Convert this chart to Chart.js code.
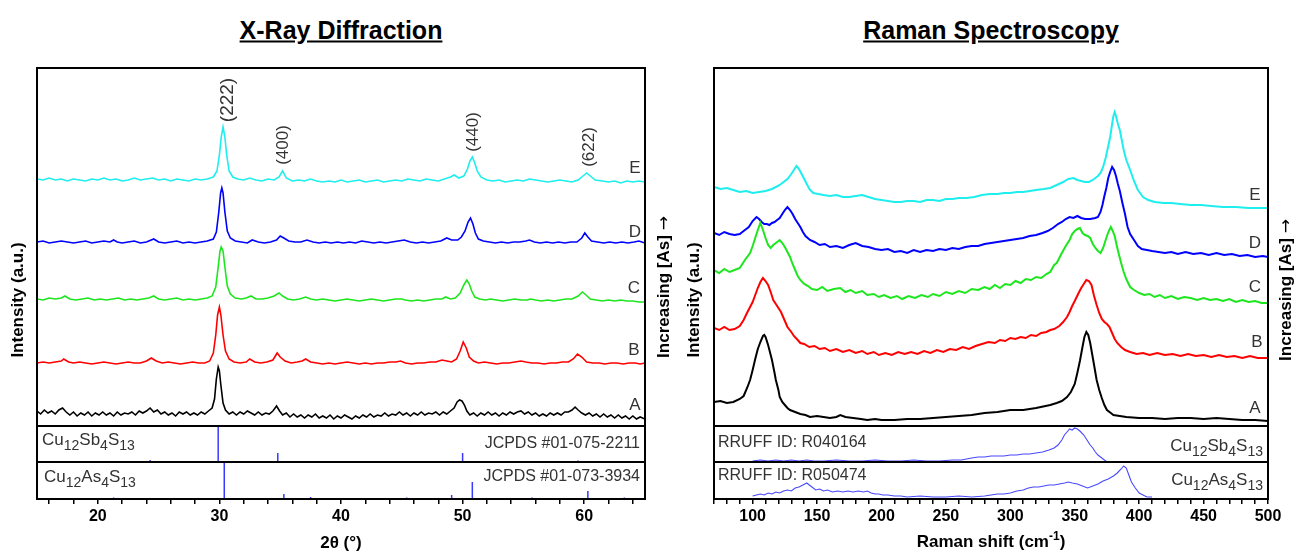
<!DOCTYPE html>
<html>
<head>
<meta charset="utf-8">
<script src="https://cdn.jsdelivr.net/npm/chart.js@4.4.0/dist/chart.umd.min.js"></script>
<style>
  body { margin: 0; width: 1296px; height: 553px; position: relative; overflow: hidden; background: #fff;
         font-family: 'Liberation Sans', Arial, sans-serif; }
  .box { position: absolute; border: 2px solid #000; box-sizing: border-box; pointer-events: none; z-index: 5; }
  .sep { position: absolute; height: 2px; background: #000; z-index: 5; }
  .t { position: absolute; white-space: nowrap; transform: translate(-50%, -50%); z-index: 6; }
  .rot { transform: translate(-50%, -50%) rotate(-90deg); }
  .title { font-size: 25px; font-weight: bold; text-decoration: underline; }
  .ax { font-size: 17px; font-weight: bold; color: #000; }
  .arr { font-family: 'DejaVu Sans', sans-serif; font-weight: normal; font-size: 17px; }
  .lbl { font-size: 17px; color: #333; }
  .pk { font-size: 17px; color: #333; }
  .ref { position: absolute; white-space: nowrap; font-size: 16px; color: #333; z-index: 6; }
  .s { font-size: 14px; position: relative; top: 5px; }
</style>
</head>
<body>

<div class="t title" style="left:341px;top:30px">X-Ray Diffraction</div>
<div class="t title" style="left:991px;top:30px">Raman Spectroscopy</div>

<div class="t ax rot" style="left:18px;top:300px">Intensity (a.u.)</div>
<div class="t ax rot" style="left:663px;top:287px">Increasing [As] <span class="arr">→</span></div>
<div class="t ax rot" style="left:694px;top:300px">Intensity (a.u.)</div>
<div class="t ax rot" style="left:1285px;top:290px">Increasing [As] <span class="arr">→</span></div>

<div class="t ax" style="left:341px;top:543px">2θ (°)</div>
<div class="t ax" style="left:991px;top:542px">Raman shift (cm<span style="font-size:12px;position:relative;top:-7px">-1</span>)</div>

<div class="t pk rot" style="left:227px;top:100px;font-size:19px">(222)</div>
<div class="t pk rot" style="left:283px;top:145px">(400)</div>
<div class="t pk rot" style="left:473px;top:132px">(440)</div>
<div class="t pk rot" style="left:589px;top:147px">(622)</div>

<div class="t lbl" style="left:635px;top:168px">E</div>
<div class="t lbl" style="left:635px;top:232px">D</div>
<div class="t lbl" style="left:634px;top:288px">C</div>
<div class="t lbl" style="left:634px;top:350px">B</div>
<div class="t lbl" style="left:635px;top:405px">A</div>

<div class="t lbl" style="left:1255px;top:195px">E</div>
<div class="t lbl" style="left:1255px;top:243px">D</div>
<div class="t lbl" style="left:1255px;top:287px">C</div>
<div class="t lbl" style="left:1257px;top:342px">B</div>
<div class="t lbl" style="left:1255px;top:408px">A</div>

<div class="ref" style="left:42px;top:430px;font-size:17px">Cu<span class="s">12</span>Sb<span class="s">4</span>S<span class="s">13</span></div>
<div class="ref" style="right:656px;top:434px">JCPDS #01-075-2211</div>
<div class="ref" style="left:44px;top:467px;font-size:17px">Cu<span class="s">12</span>As<span class="s">4</span>S<span class="s">13</span></div>
<div class="ref" style="right:656px;top:467px">JCPDS #01-073-3934</div>

<div class="ref" style="left:718px;top:433px">RRUFF ID: R040164</div>
<div class="ref" style="right:33px;top:436px;font-size:17px">Cu<span class="s">12</span>Sb<span class="s">4</span>S<span class="s">13</span></div>
<div class="ref" style="left:718px;top:466px">RRUFF ID: R050474</div>
<div class="ref" style="right:33px;top:470px;font-size:17px">Cu<span class="s">12</span>As<span class="s">4</span>S<span class="s">13</span></div>

<script>
// sample names, bottom to top
const samples = ['A', 'B', 'C', 'D', 'E'];
const sampleColors = ['#000000', '#ff0000', '#1ee61e', '#0000ff', '#1eeeee'];

// tick labels
const xrdTickLabels = [20, 30, 40, 50, 60];
const ramanTickLabels = [100, 150, 200, 250, 300, 350, 400, 450, 500];

// XRD patterns [2theta, intensity (a.u., offset stacked)]
const xrdA = [[15,16],[15.3,13],[15.6,17],[15.9,14],[16.2,16],[16.5,13],[16.8,17],[17.1,19],[17.4,15],[17.7,12],[18.0,15],[18.3,11],[18.6,14],[18.9,12],[19.2,15],[19.5,11],[19.8,14],[20.1,12],[20.4,15],[20.7,12],[21.0,14],[21.3,11],[21.6,15],[21.9,12],[22.2,14],[22.5,13],[22.8,15],[23.1,12],[23.4,16],[23.7,14],[24.0,16],[24.3,19],[24.6,15],[24.9,17],[25.2,13],[25.5,15],[25.8,12],[26.1,14],[26.4,11],[26.7,15],[27.0,13],[27.3,15],[27.6,12],[27.9,14],[28.2,12],[28.5,15],[28.8,13],[29.1,16],[29.4,19],[29.6,28],[29.75,48],[29.9,60],[30.0,56],[30.12,42],[30.3,24],[30.5,17],[30.8,13],[31.1,15],[31.4,12],[31.7,15],[32.0,13],[32.3,16],[32.6,14],[32.9,12],[33.2,15],[33.5,12],[33.8,14],[34.1,13],[34.4,16],[34.7,21],[34.95,16],[35.2,12],[35.5,14],[35.8,10],[36.1,13],[36.4,10],[36.7,12],[37.0,9],[37.3,12],[37.6,10],[37.9,13],[38.2,9],[38.5,11],[38.8,9],[39.1,12],[39.4,8],[39.7,11],[40.0,9],[40.3,12],[40.6,10],[40.9,8],[41.2,11],[41.5,9],[41.8,12],[42.1,10],[42.4,13],[42.7,10],[43.0,12],[43.3,11],[43.6,14],[43.9,11],[44.2,13],[44.5,12],[44.8,15],[45.1,12],[45.4,14],[45.7,11],[46.0,14],[46.3,12],[46.6,15],[46.9,12],[47.2,14],[47.5,13],[47.8,15],[48.1,12],[48.4,15],[48.7,13],[49.0,16],[49.3,19],[49.55,25],[49.75,27],[49.95,26],[50.15,22],[50.35,16],[50.6,12],[50.9,14],[51.2,11],[51.5,14],[51.8,12],[52.1,15],[52.4,12],[52.7,14],[53.0,11],[53.3,14],[53.6,12],[53.9,15],[54.2,13],[54.5,15],[54.8,16],[55.1,13],[55.4,15],[55.7,12],[56.0,14],[56.3,11],[56.6,13],[56.9,11],[57.2,14],[57.5,12],[57.8,14],[58.1,12],[58.4,15],[58.7,15],[59.0,17],[59.25,20],[59.5,17],[59.8,14],[60.1,12],[60.4,14],[60.7,11],[61.0,13],[61.3,10],[61.6,13],[61.9,10],[62.2,12],[62.5,9],[62.8,12],[63.1,9],[63.4,11],[63.7,8],[64.0,11],[64.3,8],[64.6,10],[65,8]];
const xrdB = [[15,64],[15.5,65],[16,64],[16.5,65],[17,66],[17.2,68],[17.6,65],[18,64],[18.5,65],[19,64],[19.5,63],[20,64],[20.5,65],[21,64],[21.5,63],[22,64],[22.5,65],[23,64],[23.5,64],[24.0,66],[24.4,69],[24.8,66],[25.3,64],[25.8,65],[26.3,64],[26.8,63],[27.3,64],[27.8,65],[28.3,64],[28.8,64],[29.2,66],[29.5,74],[29.7,92],[29.85,112],[30.0,120],[30.12,112],[30.3,92],[30.5,76],[30.8,68],[31.2,65],[31.7,64],[32.2,65],[32.5,68],[32.9,65],[33.4,64],[33.9,65],[34.4,67],[34.75,74],[35.0,70],[35.4,66],[35.9,64],[36.4,65],[36.8,66],[37.1,68],[37.5,65],[38,64],[38.5,63],[39,64],[39.5,63],[40,64],[40.5,65],[41,64],[41.5,63],[42,64],[42.5,63],[43,64],[43.5,64],[44,65],[44.5,65],[44.9,66],[45.3,64],[45.8,63],[46.3,64],[46.8,64],[47.3,65],[47.8,65],[48.3,67],[48.7,66],[49.1,65],[49.5,68],[49.8,76],[50.05,85],[50.3,79],[50.55,70],[50.9,66],[51.3,64],[51.8,65],[52.3,64],[52.8,63],[53.3,64],[53.8,64],[54.3,65],[54.8,66],[55.2,65],[55.7,64],[56.2,64],[56.7,63],[57.2,64],[57.7,64],[58.2,65],[58.7,65],[59.1,68],[59.45,73],[59.8,70],[60.2,65],[60.7,64],[61.2,64],[61.7,63],[62.2,64],[62.7,64],[63.2,63],[63.7,64],[64.2,64],[64.6,63],[65,64]];
const xrdC = [[15,128],[15.5,127],[16,129],[16.5,128],[17,129],[17.3,131],[17.7,128],[18.2,127],[18.7,128],[19.2,129],[19.7,127],[20.2,128],[20.7,127],[21.2,128],[21.7,129],[22.2,127],[22.7,128],[23.2,127],[23.7,128],[24.2,129],[24.6,131],[25.0,128],[25.5,127],[26,128],[26.5,129],[27,127],[27.5,128],[28,127],[28.5,128],[29,129],[29.4,131],[29.7,140],[29.9,160],[30.05,176],[30.15,180],[30.3,176],[30.45,160],[30.65,141],[30.9,133],[31.3,129],[31.8,128],[32.2,129],[32.6,131],[33.0,128],[33.5,128],[34.0,129],[34.5,131],[34.9,134],[35.2,131],[35.6,128],[36.1,127],[36.6,128],[37.1,130],[37.5,128],[38,127],[38.5,128],[39,127],[39.5,126],[40,127],[40.5,128],[41,127],[41.5,126],[42,127],[42.5,128],[43,127],[43.5,126],[44,127],[44.5,128],[45,128],[45.3,127],[45.8,126],[46.3,127],[46.8,126],[47.3,127],[47.8,128],[48.3,128],[48.6,130],[49.0,128],[49.4,129],[49.8,134],[50.1,142],[50.35,147],[50.55,143],[50.75,136],[51.0,130],[51.4,128],[51.9,127],[52.3,128],[52.8,127],[53.3,126],[53.8,127],[54.3,128],[54.8,127],[55.3,127],[55.6,128],[56,127],[56.5,126],[57,127],[57.5,126],[58,127],[58.5,128],[59,128],[59.5,131],[59.85,135],[60.15,132],[60.5,128],[61,127],[61.5,126],[62,127],[62.5,126],[63,127],[63.5,126],[64,126],[64.5,125],[65,125]];
const xrdD = [[15,185],[15.5,186],[16,184],[16.5,185],[17,186],[17.5,185],[18,184],[18.5,185],[19,186],[19.5,184],[20,185],[20.5,186],[21,185],[21.3,187],[21.6,185],[22,184],[22.5,185],[23,186],[23.5,184],[24,185],[24.6,188],[25,185],[25.5,184],[26,185],[26.5,186],[27,184],[27.5,185],[28,184],[28.5,185],[29,186],[29.5,188],[29.75,195],[29.95,215],[30.1,234],[30.2,239],[30.3,234],[30.45,215],[30.65,196],[30.9,189],[31.3,186],[31.8,185],[32.3,184],[32.7,187],[33.2,185],[33.7,184],[34.2,185],[34.7,187],[35.0,191],[35.3,189],[35.7,186],[36.2,185],[36.7,185],[37.2,187],[37.7,185],[38.2,184],[38.7,185],[39.2,184],[39.7,185],[40.2,184],[40.7,185],[41.2,184],[41.7,186],[42.2,185],[42.7,184],[43.2,185],[43.7,184],[44.2,185],[44.7,186],[45.2,187],[45.7,185],[46.2,184],[46.7,185],[47.2,184],[47.7,185],[48.2,186],[48.7,189],[49.1,187],[49.6,187],[49.9,190],[50.2,196],[50.45,205],[50.65,209],[50.85,203],[51.05,194],[51.3,188],[51.7,186],[52.2,185],[52.7,184],[53.2,185],[53.7,184],[54.2,185],[54.7,185],[55.2,186],[55.5,187],[55.9,185],[56.4,184],[56.9,185],[57.4,184],[57.9,185],[58.4,184],[58.9,185],[59.4,185],[59.8,189],[60.05,194],[60.3,190],[60.6,186],[61.1,185],[61.6,184],[62.1,185],[62.6,184],[63.1,185],[63.6,184],[64.1,185],[64.5,186],[65,184]];
const xrdE = [[15,248],[15.5,247],[16,249],[16.5,247],[17,248],[17.5,246],[18,248],[18.5,247],[19,246],[19.5,248],[20,247],[20.5,249],[21,247],[21.5,248],[22,246],[22.5,247],[23,249],[23.5,247],[24,248],[24.5,249],[25,247],[25.5,248],[26,246],[26.5,248],[27,247],[27.5,246],[28,248],[28.5,247],[29,248],[29.5,250],[29.8,256],[30.0,272],[30.15,290],[30.3,300],[30.45,290],[30.6,272],[30.8,256],[31.1,250],[31.5,248],[32,247],[32.5,249],[33,247],[33.5,246],[34,248],[34.5,247],[34.9,250],[35.2,256],[35.5,249],[36,246],[36.5,247],[37,246],[37.5,248],[38,246],[38.5,245],[39,246],[39.5,245],[40,247],[40.5,245],[41,246],[41.5,247],[42,245],[42.5,246],[43,247],[43.5,245],[44,246],[44.5,247],[45,246],[45.5,248],[46,247],[46.5,246],[47,248],[47.5,247],[48,246],[48.5,248],[49,250],[49.3,252],[49.7,249],[50.1,251],[50.4,258],[50.6,266],[50.8,270],[51.0,264],[51.2,256],[51.5,250],[52,247],[52.5,246],[53,247],[53.5,245],[54,246],[54.5,247],[55,246],[55.5,248],[56,247],[56.5,246],[57,245],[57.5,246],[58,247],[58.5,246],[59,245],[59.5,247],[59.9,251],[60.2,254],[60.5,251],[60.9,247],[61.5,246],[62,245],[62.5,246],[63,244],[63.5,246],[64,245],[64.5,246],[65,245]];

// JCPDS reference lines [2theta, relative height]
const jcpdsSb = [[24.3,2],[29.9,36],[34.8,9],[50.0,9],[59.5,1.5]];
const jcpdsAs = [[21.3,1.5],[30.4,37],[35.3,5],[37.5,2],[45.4,1.5],[49.1,4],[50.8,17],[55.7,1.5],[60.3,8],[63.3,1.5]];

// Raman spectra [shift cm-1, intensity (a.u., offset stacked)]
const ramanA = [[70,24],[75,25],[80,23],[85,24],[90,27],[93,30],[96,39],[98,46],[100,56],[102,67],[104,77],[106,84],[108,90],[109,91],[110,89],[112,81],[114,71],[115,66],[117,53],[118,46],[120,36],[121,29],[123,24],[125,21],[127,18],[129,16],[133,14],[137,12],[141,11],[144.5,9],[150,10],[155,9],[160,8],[165,9],[168,11],[172,9],[178,8],[184,7],[189,6],[195,7],[200,6],[210,6],[220,7],[230,7],[240,8],[250,9],[260,10],[270,11],[280,13],[290,14],[300,16],[310,16],[320,18],[331,21],[336,23],[340,25],[344,29],[347,34],[350,42],[352,53],[354,65],[356,79],[357.5,89],[359,94],[360.5,91],[362,83],[363.5,72],[365,61],[367,46],[369,36],[371,28],[373,21],[375,16],[378,13],[380,11],[385,10],[390,9],[400,8],[410,8],[420,7],[430,8],[440,8],[450,7],[460,8],[470,7],[480,6],[490,6],[500,5]];
const ramanB = [[70,98],[74,96],[78,99],[82,96],[86,97],[90,100],[93,106],[95.6,113],[98,119],[100,124],[102,131],[104,138],[106,144],[108,148],[110,145],[112,141],[114,134],[116,126],[118,122],[120,118],[122,114],[124,108],[127,99],[130,94],[132,90],[135,86],[137,83],[140,82],[144,79],[148,80],[152,77],[156,78],[160,75],[165,77],[170,74],[175,76],[180,73],[185,75],[189,72],[194,74],[198,71],[203,73],[208,71],[213,74],[218,72],[223,74],[228,72],[233,75],[238,73],[243,76],[248,74],[253,77],[258,76],[263,79],[268,77],[273,80],[278,82],[283,84],[288,83],[292,86],[296,85],[300,88],[304,87],[308,89],[312,88],[316,91],[320,90],[324,93],[328,94],[331,96],[334,97],[338,100],[341,104],[344,109],[346,114],[348,120],[350,125],[353,133],[355,138],[357,142],[359,146],[361,145],[363,141],[365,130],[367,121],[369,113],[371,107],[373,104],[375,102],[377,99],[379,93],[381,87],[383,83],[386,79],[389,76],[393,74],[398,72],[403,73],[408,71],[414,73],[420,71],[426,72],[432,70],[438,72],[444,70],[450,71],[456,69],[462,71],[468,69],[474,70],[480,68],[486,70],[492,68],[500,68]];
const ramanC = [[70,156],[74,153],[78,157],[82,154],[86,156],[90,158],[94,166],[98,173],[100,180],[102,188],[104,196],[106,203],[108,196],[110,188],[112,181],[114,178],[116,181],[118,183],[121,186],[123,183],[125,179],[127,174],[129,169],[131,162],[133,156],[135,150],[137,146],[140,142],[143,140],[146,137],[150,136],[154,139],[158,135],[163,137],[168,138],[172,134],[176,136],[180,133],[185,135],[189,131],[194,132],[198,129],[202,131],[207,128],[212,130],[216,127],[221,130],[226,128],[231,131],[236,129],[240,132],[245,130],[250,134],[255,132],[260,135],[265,133],[270,137],[275,136],[280,139],[284,137],[288,141],[292,138],[296,142],[300,141],[304,145],[308,143],[312,147],[316,146],[320,149],[324,148],[328,152],[331,154],[334,161],[336,163],[338,168],[340,173],[343,180],[346,186],[348,192],[350,195],[352,197],[354,198],[356,193],[358,191],[360,190],[362,188],[364,182],[366,178],[368,175],[370,173],[372,178],[373.5,184],[375,190],[376.5,195],[378,199],[379.5,195],[381,190],[382.5,181],[384,173],[386,163],[388,154],[390,147],[393,139],[396,136],[400,133],[404,131],[408,132],[412,129],[416,131],[420,128],[425,130],[430,127],[435,129],[440,128],[445,126],[450,128],[455,126],[460,127],[465,125],[470,127],[475,124],[480,126],[485,124],[490,125],[495,123],[500,123]];
const ramanD = [[70,193],[74,191],[78,194],[82,192],[86,191],[90,192],[93,195],[97,199],[100,205],[103,209],[105,207],[107,204],[109,202],[111,202],[113,201],[115,203],[117,204],[119,206],[121,208],[123,212],[125,216],[127,219],[129,216],[131,212],[133,207],[135,203],[137,199],[139,194],[141,190],[144.5,186],[148,184],[152,181],[156,182],[160,179],[165,180],[170,178],[175,181],[180,183],[185,180],[190,179],[195,177],[200,176],[205,177],[210,174],[215,175],[220,173],[225,176],[230,174],[235,176],[240,175],[245,177],[250,176],[255,178],[260,177],[265,179],[270,180],[275,180],[280,182],[285,183],[290,184],[295,185],[300,186],[305,187],[310,188],[315,190],[320,191],[325,193],[329,195],[333,198],[337,202],[340,204],[343,207],[346,209],[349,208],[352,210],[355,208],[358,207],[362,207],[366,208],[368,209],[370,214],[371.5,221],[373,230],[374.5,238],[376,248],[377.5,254],[379,259],[380.5,256],[382,250],[383.5,242],[385,235],[387,223],[389,212],[391,199],[393,192],[396,186],[399,180],[402,177],[406,176],[410,175],[415,174],[420,173],[425,174],[430,172],[436,174],[442,172],[448,173],[454,171],[460,173],[466,171],[472,172],[478,170],[484,171],[490,169],[496,170],[500,169]];
const ramanE = [[70,239],[75,237],[80,238],[85,236],[90,234],[95,235],[100,233],[105,234],[110,235],[115,237],[118,239],[121,241],[124,244],[127,247],[130,252],[132,256],[134,260],[136,257],[138,252],[140,247],[142,242],[144,237],[147,233],[151,232],[155,231],[160,230],[165,231],[170,229],[175,229],[180,230],[185,231],[190,229],[195,227],[200,226],[205,225],[210,224],[215,224],[220,225],[225,225],[230,224],[235,226],[240,226],[245,225],[250,227],[255,227],[260,228],[266,228],[272,229],[278,231],[284,232],[290,232],[295,233],[300,233],[305,234],[310,234],[315,235],[320,236],[326,237],[331,238],[336,241],[341,244],[345,247],[349,248],[352,246],[355,245],[358,244],[361,244],[364,246],[366,248],[368,250],[370,253],[372,259],[374,268],[376,280],[377.5,289],[379,302],[380,310],[381,314],[382,310],[383.5,302],[385,296],[386.5,286],[388,276],[390,266],[393,256],[396,245],[399,236],[403,229],[407,226],[412,224],[419,223],[425,223],[432,222],[440,221],[448,221],[456,220],[465,219],[475,219],[485,218],[495,218],[500,218]];

// RRUFF reference spectra
const rruffSb = [[100,1],[106,2],[112,1],[118,2],[124,1],[130,2],[136,1],[142,2],[148,1],[155,1],[165,2],[175,1],[185,1],[195,2],[205,1],[215,1],[225,2],[235,1],[245,1],[255,2],[262,2],[266,3],[270,4],[275,5],[280,5],[285,6],[290,6],[295,6],[300,7],[305,7],[310,8],[315,8],[320,9],[325,10],[330,12],[334,14],[337,17],[340,22],[342,27],[344,30],[346,33],[348,32],[350,34],[352,33],[354,31],[357,27],[360,21],[362,17],[364,14],[366,10],[368,7],[370,5],[372,3],[374,1],[376,0]];
const rruffAs = [[100,3],[103,4],[106,5],[109,4],[112,6],[115,5],[118,7],[121,6],[124,8],[127,9],[130,8],[133,11],[136,12],[139,14],[142,16],[144,14],[146,12],[149,9],[152,10],[155,8],[158,9],[162,7],[166,8],[170,7],[174,8],[178,7],[182,8],[186,7],[189,8],[192,6],[195,5],[198,5],[201,4],[205,4],[210,3],[215,3],[220,2],[230,3],[240,2],[250,2],[260,3],[270,2],[280,3],[285,4],[290,5],[295,5],[300,6],[305,8],[310,9],[314,11],[318,12],[322,12],[326,13],[330,14],[334,14],[338,15],[342,16],[345,17],[348,16],[352,15],[356,13],[360,11],[364,13],[368,15],[372,18],[376,20],[380,23],[383,26],[386,30],[388,33],[390,31],[392,24],[394,17],[397,11],[400,6],[403,4],[406,2],[410,2]];

const xrdSeries = [xrdA, xrdB, xrdC, xrdD, xrdE];
const ramanSeries = [ramanA, ramanB, ramanC, ramanD, ramanE];

const PAD = 20;
const FONT = "'Liberation Sans', Arial, sans-serif";

function addCanvas(x, y, w, h) {
  const c = document.createElement('canvas');
  c.width = w + 2 * PAD;
  c.height = h;
  c.style.position = 'absolute';
  c.style.left = (x - PAD) + 'px';
  c.style.top = y + 'px';
  document.body.appendChild(c);
  return c;
}

function lineSet(pts, color, width) {
  return {
    data: pts.map(p => ({ x: p[0], y: p[1] })),
    borderColor: color, borderWidth: width,
    pointRadius: 0, tension: 0, fill: false
  };
}

function stickSet(sticks, color) {
  const pts = [];
  sticks.forEach(s => {
    pts.push({ x: s[0], y: 0 }, { x: s[0], y: s[1] }, { x: s[0], y: null });
  });
  return { data: pts, borderColor: color, borderWidth: 1.5, pointRadius: 0, spanGaps: false };
}

// tick marks every `step` from `first`, labels only on the listed values
function makeChart(canvas, datasets, xr, yr, axis) {
  const x = { type: 'linear', min: xr[0], max: xr[1], display: false };
  if (axis) {
    Object.assign(x, {
      display: true,
      border: { display: false },
      grid: { drawOnChartArea: false, drawTicks: true, tickLength: 5, color: '#000', lineWidth: 1.5 },
      ticks: {
        autoSkip: false, maxRotation: 0, padding: 3,
        color: '#000', font: { family: FONT, size: 16, weight: 'bold' },
        callback: v => axis.labels.includes(v) ? String(v) : ''
      },
      afterBuildTicks: s => {
        const t = [];
        for (let v = axis.first; v <= xr[1] + 1e-9; v += axis.step) t.push({ value: Math.round(v * 100) / 100 });
        s.ticks = t;
      },
      afterFit: s => { s.height = 40; }
    });
  }
  return new Chart(canvas, {
    type: 'line',
    data: { datasets },
    options: {
      responsive: false, animation: false, events: [], devicePixelRatio: 1,
      layout: { padding: { left: PAD, right: PAD, top: 0, bottom: 0 } },
      plugins: { legend: { display: false }, tooltip: { enabled: false } },
      scales: { x, y: { min: yr[0], max: yr[1], display: false } }
    }
  });
}

function frame(x, w) {
  const b = document.createElement('div');
  b.className = 'box';
  Object.assign(b.style, { left: (x - 1) + 'px', top: '67px', width: (w + 2) + 'px', height: '433px' });
  document.body.appendChild(b);
  [426, 462].forEach(y => {
    const s = document.createElement('div');
    s.className = 'sep';
    Object.assign(s.style, { left: x + 'px', top: (y - 1) + 'px', width: w + 'px' });
    document.body.appendChild(s);
  });
}

// X-ray diffraction panel
const xL = 37, xW = 608;
makeChart(addCanvas(xL, 68, xW, 358),
  xrdSeries.map((s, i) => lineSet(s, sampleColors[i], 1.6)), [15, 65], [1, 359]);
makeChart(addCanvas(xL, 426, xW, 36), [stickSet(jcpdsSb, '#3a3aff')], [15, 65], [0, 36]);
makeChart(addCanvas(xL, 462, xW, 77), [stickSet(jcpdsAs, '#3a3aff')], [15, 65], [0, 37],
  { first: 16, step: 2, labels: xrdTickLabels });
frame(xL, xW);

// Raman panel
const rL = 714, rW = 554;
makeChart(addCanvas(rL, 68, rW, 358),
  ramanSeries.map((s, i) => lineSet(s, sampleColors[i], 2)), [70, 500], [0, 358]);
makeChart(addCanvas(rL, 426, rW, 36), [lineSet(rruffSb, '#4848ff', 1.1)], [70, 500], [0, 36]);
makeChart(addCanvas(rL, 462, rW, 77), [lineSet(rruffAs, '#4848ff', 1.1)], [70, 500], [0, 37],
  { first: 70, step: 10, labels: ramanTickLabels });
frame(rL, rW);
</script>
</body>
</html>
